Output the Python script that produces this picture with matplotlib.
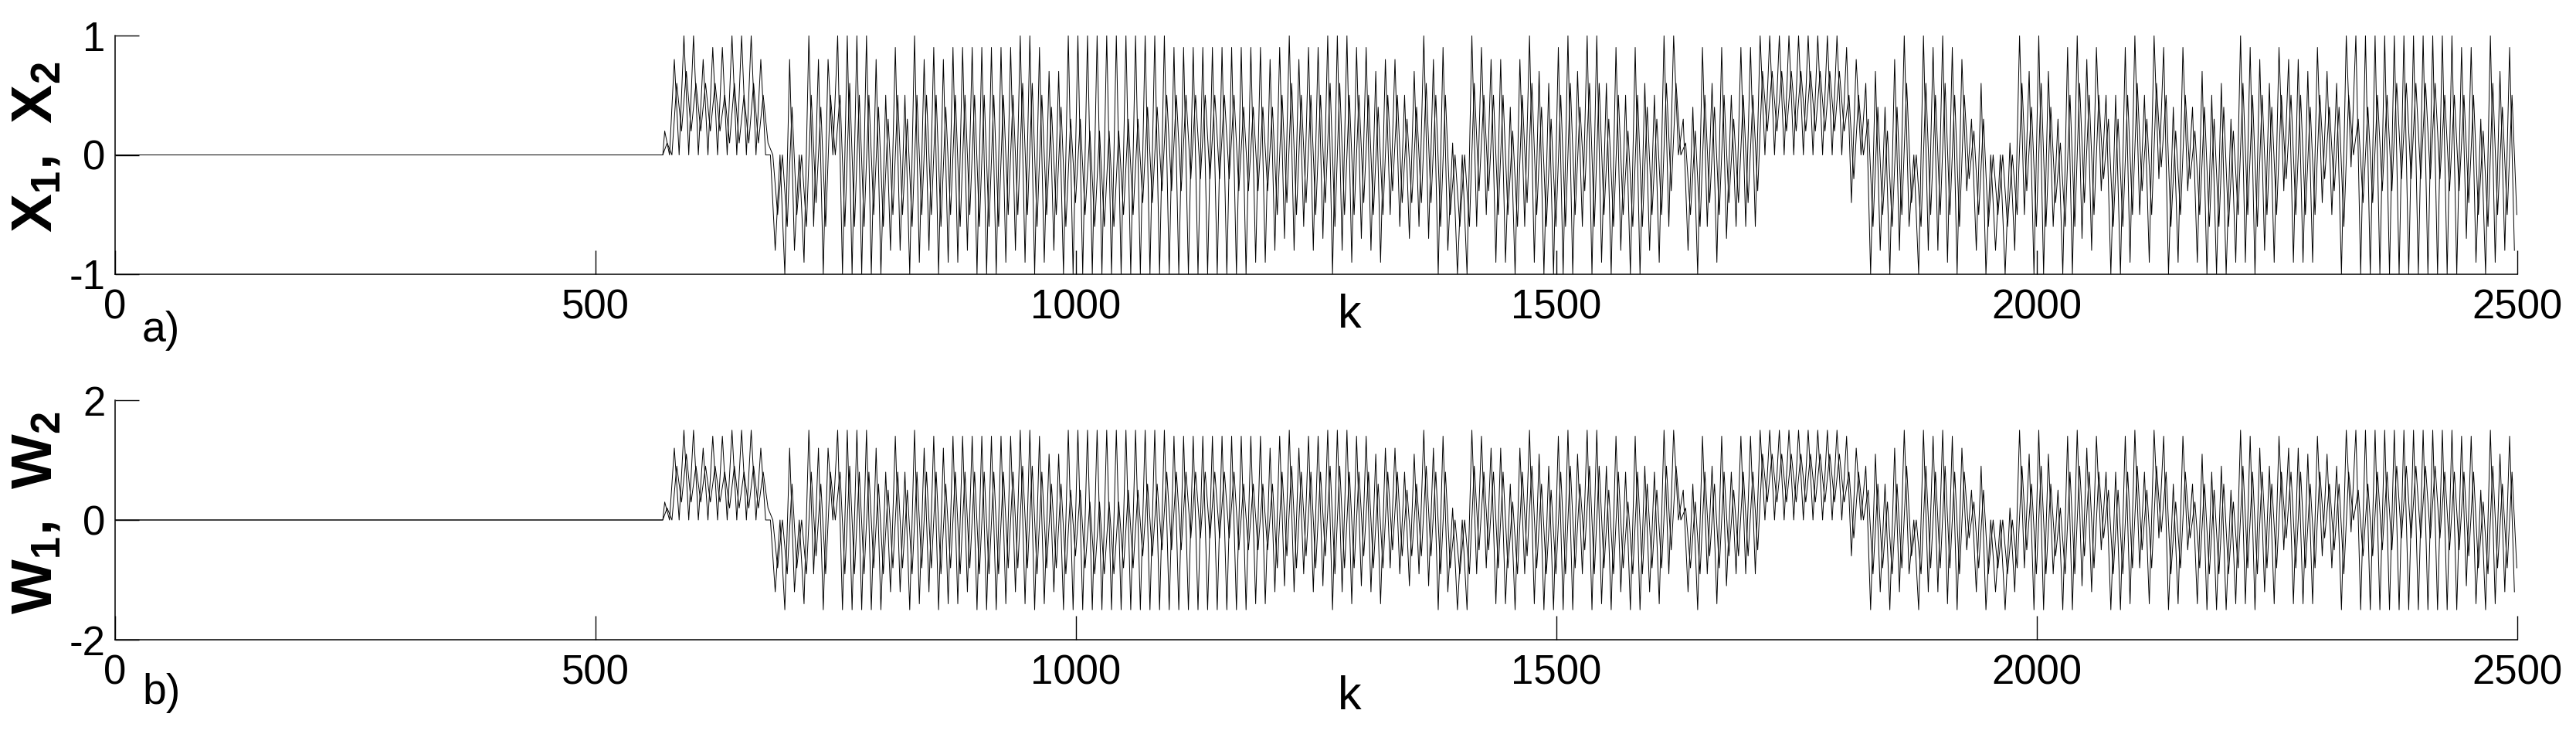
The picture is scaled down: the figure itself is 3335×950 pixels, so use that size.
import numpy as np
import matplotlib
matplotlib.use("Agg")
import matplotlib.pyplot as plt

plt.rcParams['font.family'] = ['Liberation Sans', 'DejaVu Sans']
plt.rcParams['axes.unicode_minus'] = False
plt.rcParams['mathtext.fontset'] = 'custom'
plt.rcParams['mathtext.rm'] = 'Liberation Sans'
plt.rcParams['mathtext.bf'] = 'Liberation Sans:bold'

# signal is flat at 0 up to k=570, afterwards extremes are read per 10-step bin
# (values in tenths), x1/x2 in panel a), w1/w2 in panel b)
k_flat_end = 570
bin_width = 10

x1_hi = [2, 8, 10, 10, 8, 9, 9, 10, 10, 10,
         8, 0, 0, 8, 0, 10, 8, 8, 10, 10,
         10, 10, 8, 5, 9, 5, 10, 8, 9, 8,
         9, 9, 9, 9, 9, 9, 9, 10, 10, 9,
         7, 7, 10, 10, 10, 10, 10, 10, 10, 10,
         10, 10, 10, 9, 9, 9, 9, 9, 9, 9,
         9, 9, 9, 8, 9, 10, 8, 9, 9, 10,
         10, 10, 9, 9, 7, 8, 8, 5, 7, 10,
         8, 9, 1, 0, 10, 9, 8, 8, 4, 8,
         10, 7, 6, 9, 10, 7, 10, 10, 6, 9,
         5, 9, 6, 5, 10, 10, 3, 4, 9, 6,
         9, 5, 9, 9, 10, 10, 10, 10, 10, 10,
         10, 10, 10, 9, 8, 6, 7, 4, 8, 10,
         0, 10, 9, 10, 9, 8, 3, 6, 0, 0,
         1, 10, 7, 10, 7, 3, 9, 10, 8, 9,
         5, 5, 9, 10, 5, 10, 9, 4, 9, 4,
         7, 5, 6, 3, 10, 9, 8, 6, 9, 8,
         8, 7, 9, 7, 6, 10, 10, 10, 10, 10,
         10, 10, 10, 10, 10, 10, 10, 9, 9, 3,
         10, 7, 9]
x1_lo = [0, 0, 0, 0, 0, 0, 0, 0, 0, 0,
         0, -8, -10, -8, -9, -6, -10, 0, -10, -10,
         -10, -10, -10, -8, -8, -10, -9, -8, -10, -9,
         -9, -8, -10, -10, -10, -9, -8, -9, -10, -9,
         -8, -10, -10, -10, -10, -10, -10, -10, -10, -10,
         -10, -10, -10, -10, -10, -10, -10, -10, -10, -10,
         -10, -9, -9, -8, -7, -8, -6, -8, -7, -10,
         -8, -9, -7, -8, -9, -5, -6, -7, -6, -7,
         -10, -8, -10, -10, -6, -5, -9, -9, -10, -6,
         -9, -10, -10, -10, -10, -6, -10, -9, -10, -8,
         -10, -10, -8, -9, -6, 0, -8, -10, -6, -9,
         -7, -6, -6, -6, 0, 0, 0, 0, 0, 0,
         0, 0, 0, -4, 0, -10, -8, -10, -8, -6,
         -10, -8, -8, -9, -10, -3, -8, -10, -8, -10,
         -8, -5, -10, -10, -6, -10, -10, -7, -8, -3,
         -10, -10, -9, -5, -9, -2, -10, -9, -3, -9,
         -10, -10, -10, -9, -9, -10, -8, -9, -3, -9,
         -9, -9, -4, -5, -10, -1, -10, -10, -10, -10,
         -10, -10, -10, -10, -10, -10, -10, -7, -9, -10,
         -9, -8, -8]
x2_hi = [1, 6, 7, 6, 6, 6, 5, 6, 5, 6,
         5, 0, 0, 4, 0, 5, 4, 5, 5, 6,
         5, 5, 4, 3, 5, 3, 5, 5, 5, 4,
         5, 5, 5, 5, 5, 5, 5, 6, 6, 5,
         4, 4, 3, 3, 2, 2, 2, 2, 3, 3,
         4, 4, 5, 5, 5, 5, 5, 5, 5, 5,
         4, 4, 4, 4, 5, 6, 5, 5, 5, 6,
         6, 5, 5, 5, 4, 5, 5, 3, 4, 6,
         5, 5, 0, 0, 6, 5, 5, 5, 2, 5,
         6, 4, 3, 5, 6, 4, 6, 6, 3, 5,
         2, 5, 4, 3, 6, 6, 1, 2, 5, 4,
         5, 3, 5, 5, 7, 7, 7, 7, 7, 7,
         7, 7, 7, 5, 5, 3, 4, 2, 4, 6,
         0, 6, 5, 6, 5, 5, 2, 3, 0, 0,
         0, 6, 4, 6, 4, 1, 5, 6, 5, 5,
         3, 3, 5, 6, 3, 6, 5, 2, 5, 2,
         4, 3, 4, 2, 6, 5, 5, 4, 5, 5,
         5, 4, 5, 4, 4, 5, 3, 4, 5, 5,
         6, 6, 6, 6, 6, 5, 5, 5, 5, 2,
         6, 4, 5]
x2_lo = [0, 2, 2, 2, 2, 2, 1, 1, 1, 1,
         1, -5, -6, -5, -6, -4, -6, 0, -6, -6,
         -6, -5, -6, -5, -5, -6, -5, -5, -6, -5,
         -6, -5, -6, -6, -6, -5, -5, -5, -6, -5,
         -5, -6, -4, -5, -6, -6, -6, -5, -5, -4,
         -4, -3, -3, -3, -2, -2, -2, -2, -2, -3,
         -3, -3, -3, -5, -4, -5, -4, -5, -4, -6,
         -5, -5, -4, -5, -5, -3, -4, -4, -4, -4,
         -6, -5, -6, -6, -3, -3, -5, -5, -6, -4,
         -5, -6, -6, -6, -5, -3, -6, -5, -6, -5,
         -6, -6, -5, -5, -3, 0, -5, -6, -4, -5,
         -4, -4, -4, -3, 2, 2, 2, 2, 2, 2,
         2, 2, 2, -2, 0, -6, -5, -6, -5, -4,
         -6, -5, -5, -5, -6, -2, -5, -6, -5, -6,
         -5, -3, -6, -6, -4, -6, -6, -4, -5, -2,
         -6, -6, -5, -3, -5, -1, -6, -5, -2, -5,
         -6, -6, -6, -5, -5, -6, -5, -5, -2, -5,
         -5, -5, -2, -3, -6, 0, -4, -4, -3, -3,
         -2, -2, -2, -2, -2, -3, -3, -4, -5, -6,
         -5, -5, -5]

w1_hi = [3, 12, 15, 15, 12, 14, 14, 15, 15, 15,
         12, 0, 0, 12, 0, 15, 12, 12, 15, 15,
         15, 15, 12, 8, 14, 8, 15, 12, 14, 12,
         14, 14, 14, 14, 14, 14, 14, 15, 15, 14,
         11, 11, 15, 15, 15, 15, 15, 15, 15, 15,
         15, 15, 15, 14, 14, 14, 14, 14, 14, 14,
         14, 14, 14, 12, 14, 15, 12, 14, 14, 15,
         15, 15, 14, 14, 11, 12, 12, 8, 11, 15,
         12, 14, 2, 0, 15, 14, 12, 12, 6, 12,
         15, 11, 9, 14, 15, 11, 15, 15, 9, 14,
         8, 14, 9, 8, 15, 15, 5, 6, 14, 9,
         14, 8, 14, 14, 15, 15, 15, 15, 15, 15,
         15, 15, 15, 14, 12, 9, 11, 6, 12, 15,
         0, 15, 14, 15, 14, 12, 5, 9, 0, 0,
         2, 15, 11, 15, 11, 5, 14, 15, 12, 14,
         8, 8, 14, 15, 8, 15, 14, 6, 14, 6,
         11, 8, 9, 5, 15, 14, 12, 9, 14, 12,
         12, 11, 14, 11, 9, 15, 15, 15, 15, 15,
         15, 15, 15, 15, 15, 15, 15, 14, 14, 5,
         15, 11, 14]
w1_lo = [0, 0, 0, 0, 0, 0, 0, 0, 0, 0,
         0, -12, -15, -12, -14, -9, -15, 0, -15, -15,
         -15, -15, -15, -12, -12, -15, -14, -12, -15, -14,
         -14, -12, -15, -15, -15, -14, -12, -14, -15, -14,
         -12, -15, -15, -15, -15, -15, -15, -15, -15, -15,
         -15, -15, -15, -15, -15, -15, -15, -15, -15, -15,
         -15, -14, -14, -12, -11, -12, -9, -12, -11, -15,
         -12, -14, -11, -12, -14, -8, -9, -11, -9, -11,
         -15, -12, -15, -15, -9, -8, -14, -14, -15, -9,
         -14, -15, -15, -15, -15, -9, -15, -14, -15, -12,
         -15, -15, -12, -14, -9, 0, -12, -15, -9, -14,
         -11, -9, -9, -9, 0, 0, 0, 0, 0, 0,
         0, 0, 0, -6, 0, -15, -12, -15, -12, -9,
         -15, -12, -12, -14, -15, -5, -12, -15, -12, -15,
         -12, -8, -15, -15, -9, -15, -15, -11, -12, -5,
         -15, -15, -14, -8, -14, -3, -15, -14, -5, -14,
         -15, -15, -15, -14, -14, -15, -12, -14, -5, -14,
         -14, -14, -6, -8, -15, -2, -15, -15, -15, -15,
         -15, -15, -15, -15, -15, -15, -15, -11, -14, -15,
         -14, -12, -12]
w2_hi = [2, 9, 11, 9, 9, 9, 8, 9, 8, 9,
         8, 0, 0, 6, 0, 8, 6, 8, 8, 9,
         8, 8, 6, 5, 8, 5, 8, 8, 8, 6,
         8, 8, 8, 8, 8, 8, 8, 9, 9, 8,
         6, 6, 5, 5, 3, 3, 3, 3, 5, 5,
         6, 6, 8, 8, 8, 8, 8, 8, 8, 8,
         6, 6, 6, 6, 8, 9, 8, 8, 8, 9,
         9, 8, 8, 8, 6, 8, 8, 5, 6, 9,
         8, 8, 0, 0, 9, 8, 8, 8, 3, 8,
         9, 6, 5, 8, 9, 6, 9, 9, 5, 8,
         3, 8, 6, 5, 9, 9, 2, 3, 8, 6,
         8, 5, 8, 8, 11, 11, 11, 11, 11, 11,
         11, 11, 11, 8, 8, 5, 6, 3, 6, 9,
         0, 9, 8, 9, 8, 8, 3, 5, 0, 0,
         0, 9, 6, 9, 6, 2, 8, 9, 8, 8,
         5, 5, 8, 9, 5, 9, 8, 3, 8, 3,
         6, 5, 6, 3, 9, 8, 8, 6, 8, 8,
         8, 6, 8, 6, 6, 8, 5, 6, 8, 8,
         9, 9, 9, 9, 9, 8, 8, 8, 8, 3,
         9, 6, 8]
w2_lo = [0, 3, 3, 3, 3, 3, 2, 2, 2, 2,
         2, -8, -9, -8, -9, -6, -9, 0, -9, -9,
         -9, -8, -9, -8, -8, -9, -8, -8, -9, -8,
         -9, -8, -9, -9, -9, -8, -8, -8, -9, -8,
         -8, -9, -6, -8, -9, -9, -9, -8, -8, -6,
         -6, -5, -5, -5, -3, -3, -3, -3, -3, -5,
         -5, -5, -5, -8, -6, -8, -6, -8, -6, -9,
         -8, -8, -6, -8, -8, -5, -6, -6, -6, -6,
         -9, -8, -9, -9, -5, -5, -8, -8, -9, -6,
         -8, -9, -9, -9, -8, -5, -9, -8, -9, -8,
         -9, -9, -8, -8, -5, 0, -8, -9, -6, -8,
         -6, -6, -6, -5, 3, 3, 3, 3, 3, 3,
         3, 3, 3, -3, 0, -9, -8, -9, -8, -6,
         -9, -8, -8, -8, -9, -3, -8, -9, -8, -9,
         -8, -5, -9, -9, -6, -9, -9, -6, -8, -3,
         -9, -9, -8, -5, -8, -2, -9, -8, -3, -8,
         -9, -9, -9, -8, -8, -9, -8, -8, -3, -8,
         -8, -8, -3, -5, -9, 0, -6, -6, -5, -5,
         -3, -3, -3, -3, -3, -5, -5, -6, -8, -9,
         -8, -8, -8]

x_ticks = [0, 500, 1000, 1500, 2000, 2500]


def trace(hi, lo, offset):
    """flat start, then alternate bin max / bin min"""
    k0 = k_flat_end + bin_width * np.arange(len(hi))
    ks = np.column_stack([k0 + offset, k0 + offset + bin_width / 2]).ravel()
    vals = np.column_stack([hi, lo]).ravel() / 10.0
    ks = np.concatenate([[0, k_flat_end], ks])
    vals = np.concatenate([[0, 0], vals])
    return ks, vals


def style_axes(ax, ylim, yticks):
    ax.set_xlim(0, 2500)
    ax.set_ylim(*ylim)
    ax.set_xticks(x_ticks)
    ax.set_yticks(yticks)
    ax.spines['top'].set_visible(False)
    ax.spines['right'].set_visible(False)
    for s in ('left', 'bottom'):
        ax.spines[s].set_linewidth(1.1)
    ax.tick_params(direction='in', length=22, width=1.0, labelsize=38)
    ax.tick_params(axis='x', pad=13)
    ax.tick_params(axis='y', pad=9)


fig = plt.figure(figsize=(33.35, 9.5), dpi=100)

ax1 = fig.add_axes([149 / 3335, 1 - 355 / 950, 3110 / 3335, 309 / 950])
for hi, lo, off in ((x1_hi, x1_lo, 2.0), (x2_hi, x2_lo, 4.5)):
    ks, vals = trace(hi, lo, off)
    ax1.plot(ks, vals, color='black', lw=0.7)
style_axes(ax1, (-1, 1), [-1, 0, 1])

ax2 = fig.add_axes([149 / 3335, 1 - 828 / 950, 3110 / 3335, 310 / 950])
for hi, lo, off in ((w1_hi, w1_lo, 2.0), (w2_hi, w2_lo, 4.5)):
    ks, vals = trace(hi, lo, off)
    ax2.plot(ks, vals, color='black', lw=0.7)
style_axes(ax2, (-2, 2), [-2, 0, 2])

# labels
fig.text(48 / 3335, 1 - 190 / 950, r'$\mathbf{X_1,\ X_2}$', rotation=90,
         fontsize=54, ha='center', va='center')
fig.text(48 / 3335, 1 - 663 / 950, r'$\mathbf{W_1,\ W_2}$', rotation=90,
         fontsize=54, ha='center', va='center')
fig.text(184 / 3335, 1 - 428 / 950, 'a)', fontsize=40, ha='left', va='center')
fig.text(184 / 3335, 1 - 897 / 950, 'b)', fontsize=40, ha='left', va='center')
fig.text(1747 / 3335, 1 - 408 / 950, 'k', fontsize=44, ha='center', va='center')
fig.text(1747 / 3335, 1 - 903 / 950, 'k', fontsize=44, ha='center', va='center')

fig.savefig('out.png', dpi=100)
